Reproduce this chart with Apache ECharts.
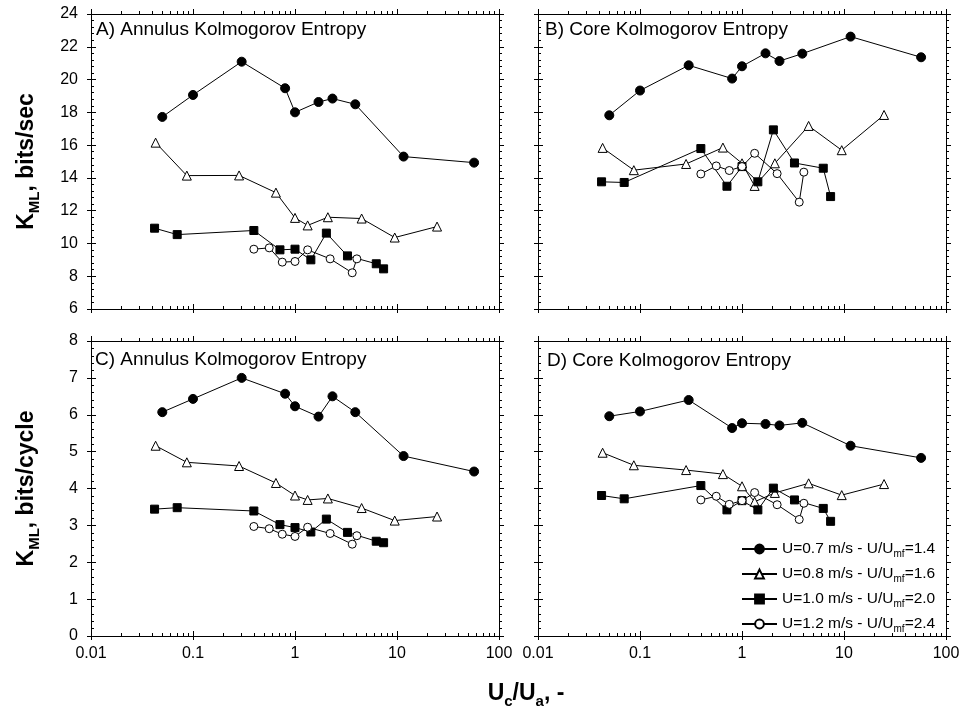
<!DOCTYPE html>
<html>
<head>
<meta charset="utf-8">
<title>Kolmogorov Entropy</title>
<script src="https://cdn.jsdelivr.net/npm/echarts@6/dist/echarts.min.js"></script>
<style>
    html, body { margin: 0; padding: 0; background: #fff; }
    #chart { width: 963px; height: 713px; }
</style>
</head>
<body>
<div id="chart"></div>
<script>
// ---- Data ----
// Uc/Ua for each run (same in every panel)
const UC_07 = [0.05, 0.1, 0.3, 0.8, 1.0, 1.7, 2.33, 3.9, 11.6, 57];
const UC_08 = [0.043, 0.087, 0.283, 0.65, 1.0, 1.33, 2.1, 4.5, 9.5, 24.7];
const UC_10 = [0.042, 0.07, 0.395, 0.712, 1.0, 1.43, 2.03, 3.27, 6.26, 7.39];
const UC_12 = [0.395, 0.559, 0.75, 1.0, 1.33, 2.21, 3.64, 4.04];

// A) annulus, bits/sec
const ANN_SEC_07 = [17.72, 19.06, 21.09, 19.47, 18.0, 18.63, 18.84, 18.49, 15.30, 14.93];
const ANN_SEC_08 = [16.15, 14.14, 14.15, 13.1, 11.56, 11.1, 11.6, 11.52, 10.36, 11.03];
const ANN_SEC_10 = [10.93, 10.54, 10.79, 9.61, 9.65, 9.0, 10.63, 9.24, 8.76, 8.45];
const ANN_SEC_12 = [9.65, 9.73, 8.86, 8.9, 9.61, 9.06, 8.21, 9.06];

// B) core, bits/sec
const CORE_SEC_07 = [17.82, 19.33, 20.87, 20.06, 20.81, 21.60, 21.13, 21.58, 22.62, 21.36];
const CORE_SEC_08 = [15.83, 14.47, 14.85, 15.85, 14.89, 13.51, 14.89, 17.17, 15.69, 17.84];
const CORE_SEC_10 = [13.76, 13.72, 15.79, 13.49, 14.69, 13.76, 16.93, 14.91, 14.59, 12.86];
const CORE_SEC_12 = [14.24, 14.73, 14.45, 14.69, 15.50, 14.26, 12.52, 14.35];

// C) annulus, bits/cycle
const ANN_CYC_07 = [6.07, 6.43, 7.0, 6.57, 6.23, 5.95, 6.50, 6.07, 4.88, 4.46];
const ANN_CYC_08 = [5.16, 4.71, 4.61, 4.15, 3.81, 3.69, 3.73, 3.47, 3.13, 3.24];
const ANN_CYC_10 = [3.44, 3.48, 3.39, 3.02, 2.94, 2.82, 3.17, 2.81, 2.57, 2.53];
const ANN_CYC_12 = [2.97, 2.91, 2.76, 2.70, 2.95, 2.78, 2.49, 2.72];

// D) core, bits/cycle
const CORE_CYC_07 = [5.96, 6.09, 6.40, 5.64, 5.77, 5.75, 5.71, 5.78, 5.16, 4.83];
const CORE_CYC_08 = [4.97, 4.63, 4.50, 4.39, 4.06, 3.64, 3.88, 4.14, 3.82, 4.12];
const CORE_CYC_10 = [3.81, 3.72, 4.08, 3.42, 3.67, 3.42, 4.01, 3.69, 3.46, 3.11];
const CORE_CYC_12 = [3.69, 3.79, 3.57, 3.67, 3.89, 3.56, 3.16, 3.60];

// legend / tick labels
const RUN_U = ["0.7", "0.8", "1.0", "1.2"];
const RUN_RATIO = ["1.4", "1.6", "2.0", "2.4"];
const X_TICKS = [0.01, 0.1, 1, 10, 100];
const Y_TICKS_SEC = [6, 8, 10, 12, 14, 16, 18, 20, 22, 24];
const Y_TICKS_CYC = [0, 1, 2, 3, 4, 5, 6, 7, 8];

(function (window, document) {
    "use strict";

    const FONT = "Arial, 'Liberation Sans', sans-serif";
    const BLACK = "#000";
    const LINE = { color: BLACK, width: 1 };
    const GRID_W = 408, GRID_H = 295;
    const AXES_X = 5, AXES_Y = 3;   // axes per panel

    const NAMES = RUN_U.map((u, i) => `U=${u} m/s - U/Umf=${RUN_RATIO[i]}`);
    const X_RUNS = [UC_07, UC_08, UC_10, UC_12];
    const MARKS = [
        { symbol: "circle", size: 9, fill: BLACK },
        { symbol: "triangle", size: 9, fill: "#fff" },
        { symbol: "rect", size: 8, fill: BLACK },
        { symbol: "circle", size: 8, fill: "#fff" }
    ];

    const PANELS = [
        { title: "A) Annulus Kolmogorov Entropy", left: 91, top: 14, tx: 96, ty: 20, ticks: Y_TICKS_SEC,
          runs: [ANN_SEC_07, ANN_SEC_08, ANN_SEC_10, ANN_SEC_12], xLabels: false, yLabels: true },
        { title: "B) Core Kolmogorov Entropy", left: 538, top: 14, tx: 545, ty: 20, ticks: Y_TICKS_SEC,
          runs: [CORE_SEC_07, CORE_SEC_08, CORE_SEC_10, CORE_SEC_12], xLabels: false, yLabels: false },
        { title: "C) Annulus Kolmogorov Entropy", left: 91, top: 341, tx: 95, ty: 350, ticks: Y_TICKS_CYC,
          runs: [ANN_CYC_07, ANN_CYC_08, ANN_CYC_10, ANN_CYC_12], xLabels: true, yLabels: true },
        { title: "D) Core Kolmogorov Entropy", left: 538, top: 341, tx: 547, ty: 351, ticks: Y_TICKS_CYC,
          runs: [CORE_CYC_07, CORE_CYC_08, CORE_CYC_10, CORE_CYC_12], xLabels: true, yLabels: false }
    ];

    // log minor ticks (2..9 per decade) expressed in log10 space
    const LO = Math.log10(X_TICKS[0]), HI = Math.log10(X_TICKS[X_TICKS.length - 1]);
    const MINOR_LOG = [];
    for (let d = LO; d < HI; d++) for (let k = 2; k <= 9; k++) MINOR_LOG.push(d + Math.log10(k));

    const LOG_BASE = { type: "log", logBase: 10, min: X_TICKS[0], max: X_TICKS[X_TICKS.length - 1] };
    const LOG_SPACE = { type: "value", min: LO, max: HI };

    function axis(base, o) {
        const a = {
            type: base.type, gridIndex: o.gi, position: o.pos, min: base.min, max: base.max,
            splitLine: { show: false },
            axisLine: { show: !!o.line, onZero: false, lineStyle: LINE },
            axisTick: { show: true, inside: !!o.inside, length: o.len, lineStyle: LINE },
            minorTick: { show: !!o.minor, splitNumber: 5, length: 3, lineStyle: LINE },
            axisLabel: { show: !!o.labels, margin: o.margin || 8, color: BLACK, fontSize: 16, fontFamily: FONT,
                         showMinLabel: true, showMaxLabel: true, formatter: o.fmt }
        };
        if (base.logBase) a.logBase = base.logBase;
        if (base.interval) a.interval = base.interval;
        if (o.custom) a.axisTick.customValues = o.custom;
        return a;
    }

    const fmtX = v => String(Number(Number(v).toPrecision(2)));

    function xAxesFor(gi, p) {
        return [
            axis(LOG_BASE, { gi, pos: "bottom", line: true, inside: true, len: 5 }),
            axis(LOG_BASE, { gi, pos: "bottom", inside: false, len: 4, labels: p.xLabels, margin: 10, fmt: fmtX }),
            axis(LOG_SPACE, { gi, pos: "bottom", inside: true, len: 3, custom: MINOR_LOG }),
            axis(LOG_BASE, { gi, pos: "top", line: true, inside: false, len: 5 }),
            axis(LOG_SPACE, { gi, pos: "top", inside: false, len: 3, custom: MINOR_LOG })
        ];
    }

    function yAxesFor(gi, p) {
        const t = p.ticks;
        const base = { type: "value", min: t[0], max: t[t.length - 1], interval: t[1] - t[0] };
        return [
            axis(base, { gi, pos: "left", line: true, inside: true, len: 5, minor: true }),
            axis(base, { gi, pos: "left", inside: false, len: 4, labels: p.yLabels, margin: 13 }),
            axis(base, { gi, pos: "right", line: true, inside: false, len: 5, minor: true })
        ];
    }

    function seriesFor(gi, p) {
        return p.runs.map((ys, si) => ({
            type: "line",
            name: NAMES[si],
            xAxisIndex: gi * AXES_X,
            yAxisIndex: gi * AXES_Y,
            data: X_RUNS[si].map((x, i) => [x, ys[i]]),
            symbol: MARKS[si].symbol,
            symbolSize: MARKS[si].size,
            showAllSymbol: true,
            lineStyle: LINE,
            itemStyle: { color: MARKS[si].fill, borderColor: BLACK, borderWidth: 1 },
            emphasis: { disabled: true },
            z: 2 + si
        }));
    }

    const TITLE_RICH = {
        b: { fontSize: 23, fontWeight: "bold", fontFamily: FONT, color: BLACK, lineHeight: 30 },
        s: { fontSize: 15, fontWeight: "bold", fontFamily: FONT, color: BLACK, lineHeight: 15, verticalAlign: "bottom" }
    };

    function axisTitle(text, x, y, rotation) {
        return {
            type: "text", x, y, rotation,
            style: { text, rich: TITLE_RICH, align: "center", verticalAlign: "middle" }
        };
    }

    function init() {
        const el = document.getElementById("chart");
        const chart = echarts.init(el, null, { renderer: "canvas" });

        const grid = PANELS.map(p => ({ left: p.left, top: p.top, width: GRID_W, height: GRID_H, outerBoundsMode: "none" }));
        const xAxis = [], yAxis = [], series = [];
        PANELS.forEach((p, gi) => {
            xAxis.push(...xAxesFor(gi, p));
            yAxis.push(...yAxesFor(gi, p));
            series.push(...seriesFor(gi, p));
        });

        chart.setOption({
            animation: false,
            backgroundColor: "#fff",
            textStyle: { fontFamily: FONT, color: BLACK },
            title: PANELS.map(p => ({
                text: p.title, left: p.tx, top: p.ty, padding: 0,
                textStyle: { fontSize: 19, fontWeight: "normal", fontFamily: FONT, color: BLACK }
            })),
            grid, xAxis, yAxis, series,
            legend: {
                data: NAMES,
                orient: "vertical",
                left: 741, top: 541, padding: 0,
                itemWidth: 35, itemHeight: 11, itemGap: 7,   // rows ~24.5px apart
                selectedMode: false,
                formatter: name => name.replace(/^(.*U\/U)mf(=.*)$/, "{n|$1}{s|mf}{n|$2}"),
                textStyle: {
                    rich: {
                        n: { fontSize: 15.5, fontFamily: FONT, color: BLACK, lineHeight: 20 },
                        s: { fontSize: 10, fontFamily: FONT, color: BLACK, lineHeight: 10, verticalAlign: "bottom" }
                    }
                }
            },
            graphic: [
                axisTitle("{b|K}{s|ML}{b|, bits/sec}", 27, 14 + GRID_H / 2, Math.PI / 2),
                axisTitle("{b|K}{s|ML}{b|, bits/cycle}", 27, 341 + GRID_H / 2, Math.PI / 2),
                axisTitle("{b|U}{s|c}{b|/U}{s|a}{b|, -}", 526, 694, 0)
            ]
        });
    }

    init();
})(window, document);
</script>
</body>
</html>
